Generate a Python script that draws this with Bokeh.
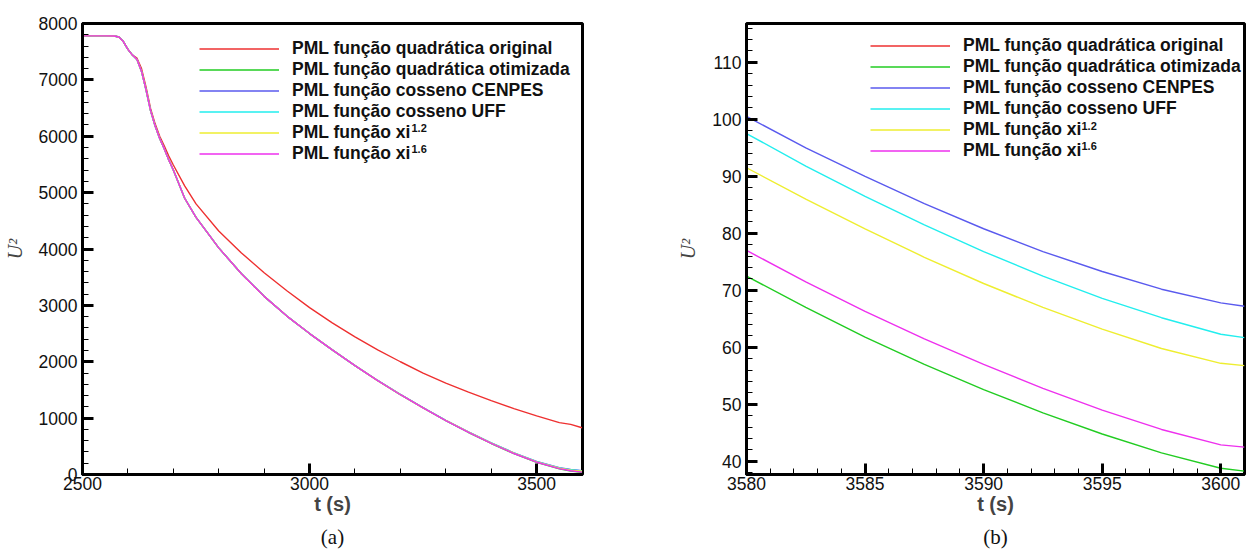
from bokeh.plotting import figure
from bokeh.layouts import row
from bokeh.models import Legend, LegendItem, Label, Title, SingleIntervalTicker
from bokeh.embed import file_html
from bokeh.resources import INLINE

# ---------------- data ----------------
series_labels = [
    "PML função quadrática original",
    "PML função quadrática otimizada",
    "PML função cosseno CENPES",
    "PML função cosseno UFF",
    "PML função xi",
    "PML função xi",
]
label_superscripts = ["", "", "", "", "1.2", "1.6"]
series_colors = ["#ee3030", "#22cc22", "#5a5aee", "#22eeee", "#eeee30", "#ee30ee"]

# panel (a): full time history
t_a = [2500, 2550, 2570, 2580, 2590, 2600, 2610, 2620, 2630, 2640, 2650, 2660, 2670,
       2680, 2690, 2700, 2725, 2750, 2800, 2850, 2900, 2950, 3000, 3050, 3100, 3150,
       3200, 3250, 3300, 3350, 3400, 3450, 3500, 3550, 3575, 3600]
u2_a_quad_orig = [7780, 7780, 7778, 7760, 7680, 7540, 7440, 7385, 7200, 6870, 6490, 6220, 6000,
                  5830, 5650, 5490, 5120, 4800, 4320, 3930, 3580, 3260, 2960, 2690, 2440, 2210,
                  2000, 1800, 1620, 1460, 1310, 1170, 1040, 920, 890, 830]
u2_a_quad_otim = [7780, 7780, 7778, 7760, 7680, 7540, 7440, 7360, 7150, 6820, 6450, 6180, 5960,
                  5780, 5580, 5400, 4900, 4560, 4020, 3560, 3160, 2810, 2500, 2210, 1930, 1665,
                  1415, 1180, 955, 745, 550, 370, 215, 100, 62, 38]
u2_a_cos_cenpes = [7780, 7780, 7778, 7760, 7680, 7540, 7440, 7360, 7150, 6820, 6450, 6180, 5960,
                   5780, 5580, 5400, 4900, 4560, 4020, 3560, 3160, 2810, 2500, 2210, 1930, 1668,
                   1420, 1186, 962, 755, 562, 385, 232, 122, 88, 67]
u2_a_cos_uff = [7780, 7780, 7778, 7760, 7680, 7540, 7440, 7360, 7150, 6820, 6450, 6180, 5960,
                5780, 5580, 5400, 4900, 4560, 4020, 3560, 3160, 2810, 2500, 2210, 1930, 1667,
                1418, 1184, 960, 752, 559, 381, 228, 117, 83, 62]
u2_a_xi12 = [7780, 7780, 7778, 7760, 7680, 7540, 7440, 7360, 7150, 6820, 6450, 6180, 5960,
             5780, 5580, 5400, 4900, 4560, 4020, 3560, 3160, 2810, 2500, 2210, 1930, 1666,
             1417, 1183, 958, 750, 556, 378, 224, 113, 78, 57]
u2_a_xi16 = [7780, 7780, 7778, 7760, 7680, 7540, 7440, 7360, 7150, 6820, 6450, 6180, 5960,
             5780, 5580, 5400, 4900, 4560, 4020, 3560, 3160, 2810, 2500, 2210, 1930, 1665,
             1415, 1181, 956, 747, 552, 372, 218, 104, 66, 42]

# panel (b): zoom on the tail
t_b = [3580, 3582.5, 3585, 3587.5, 3590, 3592.5, 3595, 3597.5, 3600, 3601]
u2_b_quad_otim = [72.5, 67.0, 61.8, 57.0, 52.6, 48.5, 44.8, 41.5, 38.8, 38.3]
u2_b_cos_cenpes = [100.5, 95.0, 90.0, 85.2, 80.8, 76.8, 73.3, 70.2, 67.8, 67.2]
u2_b_cos_uff = [97.5, 91.8, 86.5, 81.5, 76.8, 72.5, 68.6, 65.2, 62.3, 61.7]
u2_b_xi12 = [91.5, 86.0, 80.8, 75.8, 71.2, 67.0, 63.2, 59.8, 57.2, 56.8]
u2_b_xi16 = [77.0, 71.5, 66.3, 61.5, 57.0, 52.8, 49.0, 45.6, 42.9, 42.5]

x_label = "t (s)"
y_label = "U²"
captions = ["(a)", "(b)"]


def style(p, xint, yint):
    p.outline_line_color = "black"
    p.outline_line_width = 3
    p.xgrid.visible = False
    p.ygrid.visible = False
    p.background_fill_color = "white"
    p.border_fill_color = "white"
    p.xaxis.ticker = SingleIntervalTicker(interval=xint, num_minor_ticks=5)
    p.yaxis.ticker = SingleIntervalTicker(interval=yint, num_minor_ticks=5)
    for ax in [p.xaxis[0], p.yaxis[0]]:
        ax.axis_line_width = 3
        ax.axis_line_color = "black"
        ax.major_tick_line_width = 3
        ax.major_tick_line_color = "black"
        ax.major_tick_in = 11
        ax.major_tick_out = 0
        ax.minor_tick_in = 6
        ax.minor_tick_out = 0
        ax.minor_tick_line_width = 1
        ax.minor_tick_line_color = "black"
        ax.major_label_text_font = "Liberation Sans"
        ax.major_label_text_font_size = "17.5px"
        ax.major_label_text_color = "#111111"
    p.xaxis.major_label_standoff = 2
    p.yaxis.major_label_standoff = 5
    p.xaxis.axis_label = x_label
    p.xaxis.axis_label_text_font = "Liberation Sans"
    p.xaxis.axis_label_text_font_style = "bold"
    p.xaxis.axis_label_text_font_size = "20px"
    p.xaxis.axis_label_standoff = 0
    p.yaxis.axis_label = y_label
    p.yaxis.axis_label_text_font = "Liberation Serif"
    p.yaxis.axis_label_text_font_style = "italic"
    p.yaxis.axis_label_text_font_size = "20px"
    p.yaxis.axis_label_standoff = 10


def add_legend(p, renderers, x, y, sup_x, sup_ys):
    items = [LegendItem(label=lab, renderers=[r]) for lab, r in zip(series_labels, renderers)]
    leg = Legend(items=items, location=(x, y), glyph_width=80, glyph_height=21,
                 label_height=21, label_standoff=13, spacing=0, padding=0, margin=0,
                 border_line_alpha=0, background_fill_alpha=0,
                 label_text_font="Liberation Sans", label_text_font_style="bold",
                 label_text_font_size="17.5px", label_text_color="#111111")
    p.add_layout(leg)
    for sup, sy in zip(label_superscripts[4:], sup_ys):
        p.add_layout(Label(x=sup_x, y=sy, x_units="screen", y_units="screen", text=sup,
                           text_font="Liberation Sans", text_font_style="bold",
                           text_font_size="11px", text_baseline="middle", text_align="left",
                           text_color="#111111"))


def add_caption(p, text):
    p.add_layout(Title(text=text, align="center", text_font="Liberation Serif",
                       text_font_style="normal", text_font_size="21px",
                       text_color="#111111", standoff=11), "below")


# ---------------- panel (a) ----------------
p1 = figure(width=640, height=556, x_range=(2500, 3601), y_range=(0, 8000),
            output_backend="svg", toolbar_location=None, title=None,
            min_border_left=80, min_border_right=58, min_border_top=18, min_border_bottom=82)
style(p1, 500, 1000)
ra = []
for ys, c in zip([u2_a_quad_orig, u2_a_quad_otim, u2_a_cos_cenpes, u2_a_cos_uff, u2_a_xi12, u2_a_xi16],
                 series_colors):
    ra.append(p1.line(t_a, ys, line_color=c, line_width=1.4))
add_legend(p1, ra, 117, 310.5, 329, [347, 326])
add_caption(p1, captions[0])

# ---------------- panel (b) ----------------
p2 = figure(width=610, height=556, x_range=(3580, 3601), y_range=(37.7, 116.8),
            output_backend="svg", toolbar_location=None, title=None,
            min_border_left=106, min_border_right=6, min_border_top=23, min_border_bottom=81)
style(p2, 5, 10)
# the original quadratic curve stays far above this window (~850), so it is not visible here
rb = [p2.line(t_a, u2_a_quad_orig, line_color=series_colors[0], line_width=1.4)]
for ys, c in zip([u2_b_quad_otim, u2_b_cos_cenpes, u2_b_cos_uff, u2_b_xi12, u2_b_xi16],
                 series_colors[1:]):
    rb.append(p2.line(t_b, ys, line_color=c, line_width=1.4))
add_legend(p2, rb, 124, 312.8, 335, [348.3, 328.3])
add_caption(p2, captions[1])

layout = row(p1, p2)
open("out.html", "w").write(file_html(layout, INLINE))
